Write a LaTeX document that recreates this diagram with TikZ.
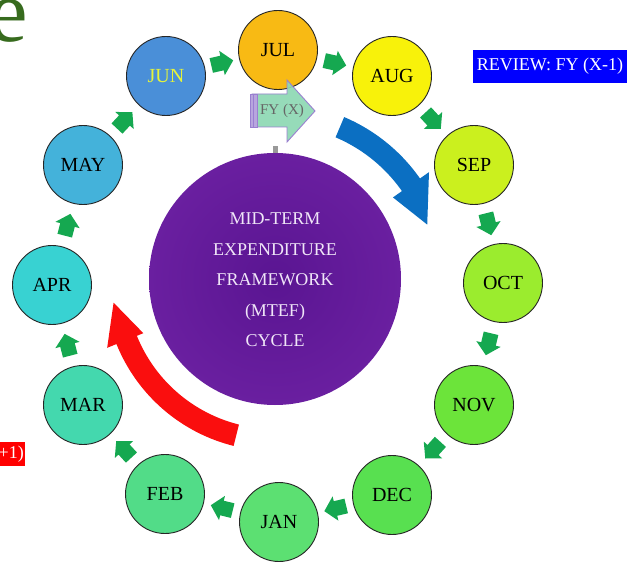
\documentclass[tikz,border=0pt]{standalone}
\usepackage{fontspec}
\setmainfont{Liberation Serif}
\usetikzlibrary{calc}
\definecolor{cjul}{HTML}{F8BA14}
\definecolor{caug}{HTML}{F8F20A}
\definecolor{csep}{HTML}{CBF01E}
\definecolor{coct}{HTML}{9BEC2E}
\definecolor{cnov}{HTML}{6CE43A}
\definecolor{cdec}{HTML}{58E050}
\definecolor{cjan}{HTML}{5CE072}
\definecolor{cfeb}{HTML}{52DC88}
\definecolor{cmar}{HTML}{44D8AE}
\definecolor{capr}{HTML}{38D2D2}
\definecolor{cmay}{HTML}{44B2DA}
\definecolor{cjun}{HTML}{4A8FD8}
\definecolor{junt}{HTML}{E6F43A}
\definecolor{arrgreen}{HTML}{15A850}
\definecolor{bluearr}{HTML}{0B6FC2}
\definecolor{redarr}{HTML}{FA0E0E}
\definecolor{purp}{HTML}{6A1FA0}
\definecolor{purpin}{HTML}{5A1592}
\definecolor{ctext}{HTML}{F0E6F8}
\definecolor{egreen}{HTML}{376B1E}
\definecolor{fyfill}{HTML}{8ED9B4}
\definecolor{fyline}{HTML}{9A80D0}
\begin{document}
\begin{tikzpicture}[x=1pt,y=-1pt,
  month/.style={circle, draw=black!85, line width=0.9pt, minimum size=79pt, inner sep=0pt, font=\fontsize{20}{20}\selectfont},
  monarrow/.style={fill=arrgreen, draw=none}]
\useasboundingbox (0,0) rectangle (630,567);
\fill[white] (0,0) rectangle (630,567);

% partial letter at top left
\node[anchor=base west, inner sep=0pt, text=egreen, font=\fontsize{89}{89}\selectfont] (eletter) at (-12,42) {e};

% month circles
\node[month, fill=cjun, text=junt] (jun) at (166,76) {JUN};
\node[month, fill=cjul] (jul) at (278,50) {JUL};
\node[month, fill=caug] (aug) at (392,76) {AUG};
\node[month, fill=csep] (sep) at (474,165) {SEP};
\node[month, fill=coct] (oct) at (503,283) {OCT};
\node[month, fill=cnov] (nov) at (474,405) {NOV};
\node[month, fill=cdec] (dec) at (392,495) {DEC};
\node[month, fill=cjan] (jan) at (279,522) {JAN};
\node[month, fill=cfeb] (feb) at (165,494) {FEB};
\node[month, fill=cmar] (mar) at (83,405) {MAR};
\node[month, fill=capr] (apr) at (52,285) {APR};
\node[month, fill=cmay] (may) at (83,165) {MAY};

% green block arrows between months
\foreach \a/\b in {jun/jul,jul/aug,aug/sep,sep/oct,oct/nov,nov/dec,dec/jan,jan/feb,feb/mar,mar/apr,apr/may,may/jun}{
  \path let \p1=($(\b.center)-(\a.center)$), \n1={atan2(\y1,\x1)} in \pgfextra{\xdef\arang{\n1}};
  \coordinate (m\a) at ($(\a)!0.5!(\b)$);
  \fill[monarrow, shift={(m\a)}, rotate=\arang]
    (-11,-7.5) -- (0,-7.5) -- (0,-12.5) -- (11.5,0) -- (0,12.5) -- (0,7.5) -- (-11,7.5) -- cycle;
}

% FY (X) arrow
\fill[fyfill, opacity=0.92] (252,94) -- (287,94) -- (287,80) -- (315,111) -- (287,142) -- (287,127) -- (252,127) -- cycle;
\draw[fyline, line width=0.9pt] (252,94) -- (287,94) -- (287,80) -- (315,111) -- (287,142) -- (287,127) -- (252,127) -- cycle;
\fill[fyline!70] (250,94) rectangle (257,127);
\draw[fyline, line width=0.7pt] (250,94) rectangle (257,127);
\draw[fyline, line width=0.7pt] (253.5,94) -- (253.5,127);
\node[text=black!60, font=\fontsize{15}{15}\selectfont, inner sep=0pt] (fy) at (282,111) {FY (X)};

% central circle
\node[rectangle, fill=black!40, minimum width=5pt, minimum height=7pt, inner sep=0pt] (tick) at (275,150) {};
\shade[inner color=purpin, outer color=purp] (275,279) circle[radius=126];
\node[align=center, text=ctext, font=\fontsize{18}{30.5}\selectfont, inner sep=0pt] (centre) at (275,280)
  {MID-TERM\\EXPENDITURE\\FRAMEWORK\\(MTEF)\\CYCLE};

% blue and red curved arrows
\begin{scope}[shift={(275,280)}]
\fill[bluearr] plot[domain=-67:-35, samples=40] (\x:177) -- (-35:188) -- (-20:162) -- (-35:144)
  -- plot[domain=-35:-67, samples=40] (\x:155) -- cycle;
\fill[redarr] plot[domain=104:158, samples=40] (\x:171) -- (158:181) -- (172:163) -- (158:142)
  -- plot[domain=158:104, samples=40] (\x:149) -- cycle;
\end{scope}

% labels
\node[fill=blue, text=white, minimum width=154pt, minimum height=33pt, inner sep=0pt,
  font=\fontsize{18}{18}\selectfont] (review) at (550,66.5) {REVIEW: FY (X-1)};
\node[fill=red, text=white, anchor=east, minimum height=24pt, inner sep=1pt,
  font=\fontsize{18}{18}\selectfont] (plan) at (25,454) {+1)};
\end{tikzpicture}
\end{document}
